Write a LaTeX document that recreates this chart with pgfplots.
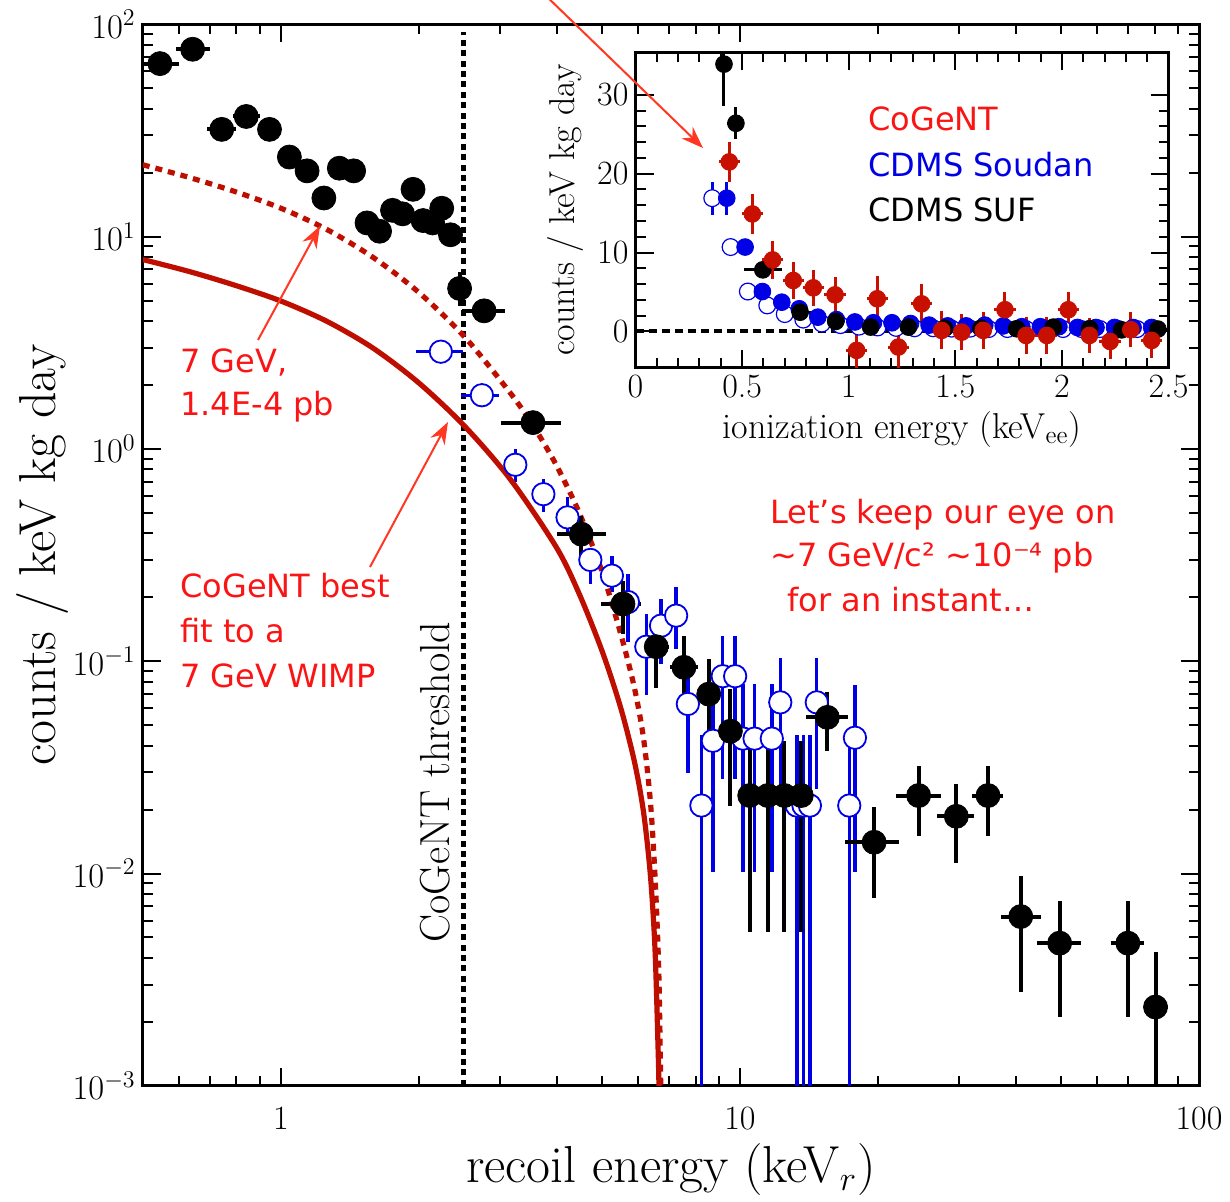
\documentclass[border=0pt]{standalone}
\usepackage{pgfplots}
\pgfplotsset{compat=1.18}
\usepackage{pgfplotstable}
\usepackage{fontspec}
\newfontfamily\comic{DejaVu Sans}
\usetikzlibrary{arrows.meta}

\definecolor{cogred}{RGB}{200,16,0}
\definecolor{curvered}{RGB}{190,14,0}
\definecolor{annred}{RGB}{250,20,20}
\definecolor{arrred}{RGB}{255,55,35}
\definecolor{cdmsblue}{RGB}{0,0,230}

% main panel: black filled points
\pgfplotstableread{
x y exm exp eym eyp
0.545 65.3 0.045 0.055 0 0
0.642 76.3 0.052 0.058 0 0
0.743 32.0 0.053 0.057 0 0
0.840 36.8 0.055 0.058 0 0
0.944 32.0 0 0 0 0
1.043 23.7 0 0 0 0
1.14 20.4 0 0 0 0
1.24 15.2 0 0 0 0
1.34 21.0 0 0 0 0
1.44 20.4 0 0 0 0
1.54 11.6 0 0 0 0
1.64 10.6 0 0 0 0
1.75 13.3 0 0 0 0
1.84 12.8 0 0 0 0
1.94 16.7 0 0 0 0
2.04 11.9 0 0 0 0
2.14 11.6 0 0 0 0
2.24 13.6 0 0 0 0
2.34 10.2 0 0 0 0
2.45 5.7 0 0 1.0 1.1
2.77 4.47 0.29 0.30 0 0
3.54 1.33 0.52 0.54 0 0
4.51 0.397 0.51 0.59 0.083 0.088
5.56 0.186 0.58 0.54 0.052 0.053
6.57 0.117 0.62 0.43 0.042 0.041
7.55 0.0936 0.51 0.56 0.034 0.038
8.55 0.070 0 0 0.0315 0.032
9.53 0.0468 0 0 0.026 0.027
10.5 0.0233 0 0 0.018 0.019
11.5 0.0233 0 0 0.018 0.019
12.5 0.0233 0 0 0.018 0.019
13.6 0.0233 0 0 0.018 0.019
15.5 0.0544 1.6 1.7 0.0165 0.017
19.6 0.01404 2.7 2.6 0.0064 0.0066
24.5 0.0233 2.6 2.9 0.0083 0.0087
29.6 0.0186 2.8 2.8 0.0074 0.0078
34.7 0.0233 2.7 2.8 0.0083 0.0087
40.9 0.00627 3.8 4.4 0.0035 0.0035
49.7 0.0047 5.4 5.5 0.0026 0.0027
70.0 0.0047 5.7 5.8 0.0026 0.0027
80.4 0.00235 4.4 5.2 0.0022 0.0019
}\mainblack

% main panel: blue open points
\pgfplotstableread{
x y exm exp eym eyp
2.23 2.87 0.26 0.26 0 0
2.74 1.79 0.27 0.25 0 0
3.24 0.842 0.1 0.1 0.14 0.16
3.73 0.612 0.1 0.1 0.11 0.11
4.21 0.476 0 0 0.076 0.12
4.72 0.30 0 0 0.07 0.03
5.26 0.253 0 0 0.042 0.061
5.7 0.19 0 0 0.067 0.067
6.25 0.117 0 0 0.048 0.05
6.73 0.147 0 0 0.05 0.05
7.26 0.164 0 0 0.05 0.06
7.70 0.0629 0 0 0.033 0.03
8.24 0.0209 0 0 0.0207 0.024
8.73 0.0422 0 0 0.032 0.025
9.17 0.085 0 0 0.057 0.047
9.76 0.085 0 0 0.057 0.047
10.15 0.0432 0 0 0.033 0.035
10.76 0.0432 0 0 0.033 0.035
11.73 0.0432 0 0 0.033 0.035
12.24 0.064 0 0 0.04 0.04
13.3 0.0209 0 0 0.0207 0.024
13.75 0.0209 0 0 0.0207 0.024
14.2 0.0209 0 0 0.0207 0.024
14.7 0.064 0 0 0.039 0.04
17.3 0.0209 0 0 0.0207 0.024
17.8 0.0436 0 0 0.0334 0.034
}\mainblue

% inset: CDMS SUF (black)
\pgfplotstableread{
x y ex eym eyp
0.415 33.9 0 5.3 5
0.471 26.4 0.04 2.0 2.0
0.597 7.81 0.09 0 0
0.772 2.44 0.085 0 0
0.939 1.27 0.085 0 0
1.103 0.55 0.085 0 0
1.28 0.55 0.085 0 0
1.45 0.4 0.085 0 0
1.62 0.4 0.085 0 0
1.788 0.34 0.085 0 0
1.96 0.55 0.085 0 0
2.13 0.35 0.085 0 0
2.28 0.2 0.085 0 0
2.45 0.3 0.085 0 0
}\insetblack

% inset: CDMS Soudan (blue filled)
\pgfplotstableread{
x y ex ey
0.428 16.9 0 2.1
0.514 10.7 0.04 0
0.595 5.06 0.04 0
0.686 3.71 0.04 0
0.768 2.87 0.04 0
0.855 1.81 0.04 0
0.942 1.5 0.04 0
1.029 1.2 0.04 0
1.116 1.1 0.04 0
1.203 1.1 0.04 0
1.29 1.0 0.04 0
1.377 0.8 0.04 0
1.464 0.7 0.04 0
1.551 0.7 0.04 0
1.638 0.8 0.04 0
1.725 0.7 0.04 0
1.812 0.6 0.04 0
1.899 0.6 0.04 0
1.986 0.6 0.04 0
2.073 0.5 0.04 0
2.16 0.5 0.04 0
2.247 0.5 0.04 0
2.334 0.5 0.04 0
2.421 0.5 0.04 0
}\insetbluef

% inset: CDMS Soudan (blue open)
\pgfplotstableread{
x y ex ey
0.36 16.9 0 2.1
0.446 10.7 0.04 0
0.527 5.06 0.04 0
0.618 3.3 0.04 0
0.70 2.2 0.04 0
0.787 1.5 0.04 0
0.874 1.0 0.04 0
0.961 0.8 0.04 0
1.048 0.6 0.04 0
1.135 0.5 0.04 0
1.222 0.45 0.04 0
1.309 0.4 0.04 0
1.396 0.4 0.04 0
1.483 0.35 0.04 0
1.57 0.35 0.04 0
1.657 0.3 0.04 0
1.744 0.3 0.04 0
1.831 0.3 0.04 0
1.918 0.3 0.04 0
2.005 0.3 0.04 0
2.092 0.3 0.04 0
2.179 0.3 0.04 0
2.266 0.3 0.04 0
2.353 0.3 0.04 0
}\insetblueo

% inset: CoGeNT (red)
\pgfplotstableread{
x y ex ey
0.44 21.5 0.05 2.5
0.548 14.9 0.05 2.5
0.643 9.07 0.05 2.4
0.740 6.46 0.05 2.4
0.834 5.53 0.05 2.3
0.936 4.64 0.05 2.3
1.037 -2.4 0.05 2.7
1.134 4.14 0.05 2.85
1.233 -1.98 0.05 2.6
1.342 3.5 0.05 2.5
1.436 0.13 0.05 2.4
1.53 -0.09 0.05 2.3
1.631 0.13 0.05 2.3
1.733 2.75 0.05 2.3
1.832 -0.51 0.05 2.3
1.929 -0.51 0.05 2.3
2.03 2.75 0.05 2.3
2.129 -0.51 0.05 2.2
2.226 -1.27 0.05 2.2
2.323 0.22 0.05 2.2
2.421 -1.14 0.05 2.2
}\insetred

\begin{document}
\begin{tikzpicture}
\useasboundingbox (-71.4pt,-57.6pt) rectangle (543.6pt,542.9pt);
\begin{axis}[
  at={(0,0)}, anchor=south west,
  scale only axis, width=528.1pt, height=530.75pt,
  xmode=log, ymode=log,
  xmin=0.5, xmax=100, ymin=1e-3, ymax=100,
  xtick={1,10,100}, xticklabels={1,10,100},
  minor xtick={0.6,0.7,0.8,0.9,2,3,4,5,6,7,8,9,20,30,40,50,60,70,80,90},
  tick align=inside,
  major tick length=9pt, minor tick length=5pt,
  every tick/.style={line width=1pt, black},
  axis line style={line width=1.5pt},
  tick label style={font=\fontsize{17}{20}\selectfont},
  x tick label style={yshift=-7pt},
  label style={font=\fontsize{26}{30}\selectfont},
  xlabel={recoil energy (keV$_r$)},
  ylabel={counts / keV kg day},
  ylabel style={xshift=0pt, yshift=-5pt},
  clip=true,
]
\addplot[black, line width=2.3pt, dash pattern=on 3pt off 2.2pt] coordinates {(2.5,0.001) (2.5,92)};

\addplot[only marks, mark=*, mark size=5.6pt,
  mark options={draw=cdmsblue, fill=white, line width=0.9pt},
  error bars/.cd, x dir=both, x explicit, y dir=both, y explicit,
  error mark=none, error bar style={line width=1.7pt, cdmsblue}]
  table[x=x, y=y, x error minus=exm, x error plus=exp, y error minus=eym, y error plus=eyp] {\mainblue};

\addplot[curvered, line width=2.6pt, smooth] coordinates {
(0.5,7.80) (0.631,6.85) (0.794,5.90) (1.0,4.97) (1.259,3.99) (1.585,2.99) (1.995,2.05)
(2.512,1.28) (3.162,0.718) (3.981,0.344) (4.467,0.207) (5.012,0.111) (5.495,0.0605)
(5.888,0.0337) (6.166,0.0194) (6.383,0.0097) (6.531,0.00434) (6.637,0.0014) (6.66,0.001)};

\addplot[curvered, line width=2.6pt, dash pattern=on 3.5pt off 3pt, smooth] coordinates {
(0.5,21.8) (0.631,19.0) (0.794,16.3) (1.0,13.6) (1.259,10.8) (1.585,8.0) (1.995,5.47)
(2.512,3.37) (3.162,1.83) (3.548,1.28) (3.981,0.838) (4.467,0.499) (5.012,0.262)
(5.495,0.135) (5.888,0.075) (6.166,0.0431) (6.383,0.0216) (6.531,0.00966) (6.653,0.0035) (6.72,0.001)};

\addplot[only marks, mark=*, mark size=6pt, black,
  error bars/.cd, x dir=both, x explicit, y dir=both, y explicit,
  error mark=none, error bar style={line width=2pt, black}]
  table[x=x, y=y, x error minus=exm, x error plus=exp, y error minus=eym, y error plus=eyp] {\mainblack};
\end{axis}

\begin{axis}[
  at={(246.35pt,359.05pt)}, anchor=south west,
  scale only axis, width=266.5pt, height=157.7pt,
  xmin=0, xmax=2.5, ymin=-4.6, ymax=35.4,
  xtick={0,0.5,1,1.5,2,2.5}, xticklabels={0,0.5,1,1.5,2,2.5},
  minor x tick num=4,
  ytick={0,10,20,30}, yticklabels={0,10,20,30},
  minor y tick num=4,
  tick align=inside,
  major tick length=9pt, minor tick length=5pt,
  every tick/.style={line width=1pt, black},
  axis line style={line width=1.5pt},
  tick label style={font=\fontsize{17}{20}\selectfont},
  label style={font=\fontsize{18}{21}\selectfont},
  xlabel={ionization energy (keV$_{\mathrm{ee}}$)},
  ylabel={counts / keV kg day},
  clip=true,
]
\addplot[black, line width=2pt, dash pattern=on 4pt off 2.5pt] coordinates {(0,0) (2.5,0)};

\addplot[only marks, mark=*, mark size=4.2pt,
  mark options={draw=cdmsblue, fill=white, line width=0.6pt},
  error bars/.cd, x dir=both, x explicit, y dir=both, y explicit,
  error mark=none, error bar style={line width=1.4pt, cdmsblue}]
  table[x=x, y=y, x error=ex, y error=ey] {\insetblueo};

\addplot[only marks, mark=*, mark size=4.2pt,
  mark options={draw=cdmsblue, fill=cdmsblue},
  error bars/.cd, x dir=both, x explicit, y dir=both, y explicit,
  error mark=none, error bar style={line width=1.4pt, cdmsblue}]
  table[x=x, y=y, x error=ex, y error=ey] {\insetbluef};

\addplot[only marks, mark=*, mark size=4.2pt, black,
  error bars/.cd, x dir=both, x explicit, y dir=both, y explicit,
  error mark=none, error bar style={line width=1.5pt, black}]
  table[x=x, y=y, x error=ex, y error minus=eym, y error plus=eyp] {\insetblack};

\addplot[only marks, mark=*, mark size=4.2pt,
  mark options={draw=cogred, fill=cogred},
  error bars/.cd, x dir=both, x explicit, y dir=both, y explicit,
  error mark=none, error bar style={line width=1.5pt, cogred}]
  table[x=x, y=y, x error=ex, y error=ey] {\insetred};
\end{axis}

\begin{scope}[shift={(-71.4pt,542.9pt)}, x=0.5pt, y=-0.5pt]
  \draw[arrred, line width=1pt, -{Stealth[length=11pt,width=8pt]}] (542,-8) -- (703,148);
  \draw[arrred, line width=1pt, -{Stealth[length=11pt,width=8pt]}] (258,340) -- (320,226);
  \draw[arrred, line width=1pt, -{Stealth[length=11pt,width=8pt]}] (370,567) -- (448,422);

  \begin{scope}[every node/.style={anchor=base west, inner sep=0pt, font=\comic\fontsize{16}{19}\selectfont}]
    \node[annred] at (180,373) {7 GeV,};
    \node[annred] at (180,416) {1.4E-4 pb};
    \node[annred] at (180,597) {CoGeNT best};
    \node[annred] at (180,642) {fit to a};
    \node[annred] at (180,687) {7 GeV WIMP};
    \node[annred] at (770,523) {Let’s keep our eye on};
    \node[annred] at (770,566) {\symbol{"7E}7 GeV/c² \symbol{"7E}10⁻⁴ pb};
    \node[annred] at (787,611) {for an instant…};
    \node[annred] at (868,131) {CoGeNT};
    \node[cdmsblue] at (868,177) {CDMS Soudan};
    \node[black] at (868,222) {CDMS SUF};
  \end{scope}
  \node[rotate=90, inner sep=0pt, font=\fontsize{21}{24}\selectfont] at (435,782) {CoGeNT threshold};
\end{scope}
\end{tikzpicture}
\end{document}
